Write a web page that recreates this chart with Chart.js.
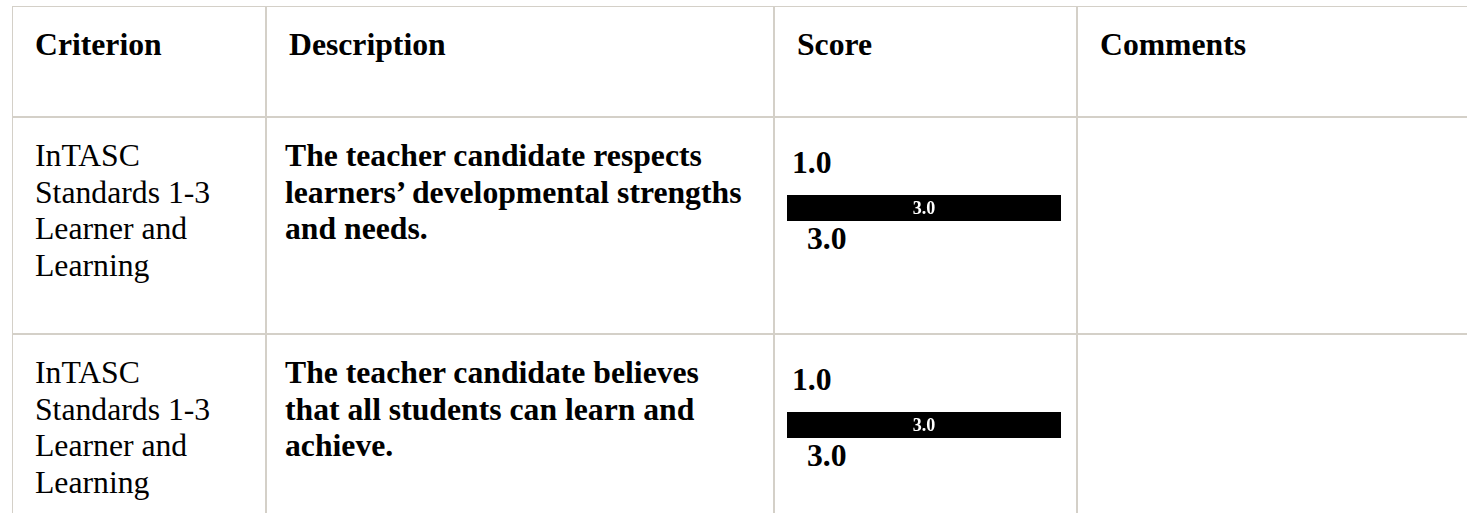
<!DOCTYPE html>
<html>
<head>
<meta charset="utf-8">
<script src="https://cdn.jsdelivr.net/npm/chart.js@4.4.1/dist/chart.umd.min.js"></script>
<style>
  body { margin: 0; background: #fff; overflow: hidden; width: 1467px; height: 513px; }
  table {
    position: absolute; left: 12px; top: 6px;
    border-collapse: separate; border-spacing: 0;
    table-layout: fixed; width: 1490px;
    border-top: 1px solid #d4d0c8; border-left: 1px solid #d4d0c8;
    font-family: "Liberation Serif", "Times New Roman", serif;
    font-size: 31.7px; line-height: 36.5px; color: #000;
  }
  th, td {
    border-right: 2px solid #d4d0c8; border-bottom: 2px solid #d4d0c8;
    vertical-align: top; text-align: left;
    padding: 20px 20px 0 22px;
  }
  th { font-weight: bold; height: 89px; }
  tr.row td { height: 195px; }
  td.desc { font-weight: bold; padding-left: 18px; }
  td.score { padding-left: 17px; }
  .min, .val { font-weight: bold; }
  .min { margin-top: 7px; }
  .bar { display: block; margin: 13px 0 0 -5px; }
  .val { padding-left: 15px; }
</style>
</head>
<body>
<table id="rubric">
  <colgroup><col style="width:254px"><col style="width:508px"><col style="width:303px"><col style="width:425px"></colgroup>
  <thead><tr id="head"></tr></thead>
  <tbody id="rows"></tbody>
</table>
<script>
// column headers
const headers = ['Criterion', 'Description', 'Score', 'Comments'];
// criterion text per row
const criteria = ['InTASC Standards 1-3 Learner and Learning', 'InTASC Standards 1-3 Learner and Learning'];
// description lines per row
const descriptions = [
  ['The teacher candidate respects', 'learners\u2019 developmental strengths', 'and needs.'],
  ['The teacher candidate believes', 'that all students can learn and', 'achieve.']
];
// rubric scale and scores
const scaleMin = [1.0, 1.0];
const scaleMax = [3.0, 3.0];
const scores = [3.0, 3.0];

// draws the value in the middle of each bar
const barLabel = {
  id: 'barLabel',
  afterDatasetsDraw(chart) {
    const ctx = chart.ctx;
    chart.getDatasetMeta(0).data.forEach((bar, i) => {
      const v = chart.data.datasets[0].data[i];
      ctx.save();
      ctx.fillStyle = '#fff';
      ctx.font = 'bold 18px "Liberation Serif", serif';
      ctx.textAlign = 'center';
      ctx.textBaseline = 'middle';
      ctx.fillText(v.toFixed(1), (bar.x + bar.base) / 2, bar.y + 1);
      ctx.restore();
    });
  }
};

document.getElementById('head').innerHTML = headers.map(h => '<th>' + h + '</th>').join('');

const tbody = document.getElementById('rows');
criteria.forEach((c, i) => {
  const tr = document.createElement('tr');
  tr.className = 'row';
  tr.innerHTML =
    '<td>' + c + '</td>' +
    '<td class="desc">' + descriptions[i].join('<br>') + '</td>' +
    '<td class="score"><div class="min">' + scaleMin[i].toFixed(1) + '</div>' +
    '<canvas class="bar" id="bar' + i + '" width="274" height="26"></canvas>' +
    '<div class="val">' + scores[i].toFixed(1) + '</div></td>' +
    '<td></td>';
  tbody.appendChild(tr);

  new Chart(document.getElementById('bar' + i), {
    type: 'bar',
    data: {
      labels: [''],
      datasets: [{ data: [scores[i]], backgroundColor: '#000', barPercentage: 1, categoryPercentage: 1 }]
    },
    options: {
      indexAxis: 'y',
      responsive: false,
      animation: false,
      devicePixelRatio: 1,
      layout: { padding: 0 },
      plugins: { legend: { display: false }, tooltip: { enabled: false } },
      scales: {
        x: { display: false, min: 0, max: scaleMax[i] },
        y: { display: false }
      }
    },
    plugins: [barLabel]
  });
});
</script>
</body>
</html>
